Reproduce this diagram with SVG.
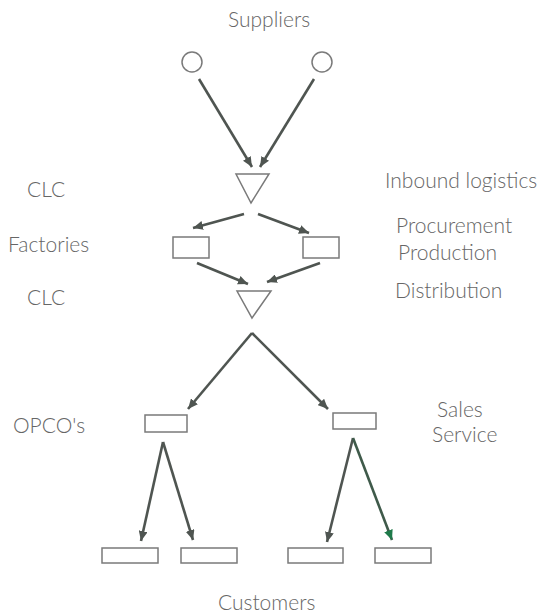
<svg xmlns="http://www.w3.org/2000/svg" width="541" height="614" viewBox="0 0 541 614">
<style>
text{font-family:Lato,"Liberation Sans",sans-serif;font-size:21px;font-weight:300;fill:#666}
.s{fill:#fff;stroke:#7a7a7a;stroke-width:1.5}
.c{stroke:#4f5551;stroke-width:2.6;fill:none;marker-end:url(#ah)}
.g{stroke:#3f5a4a;marker-end:url(#ahg)}
</style>
<defs>
<marker id="ah" markerUnits="userSpaceOnUse" markerWidth="11" markerHeight="9" refX="10" refY="4.5" orient="auto"><path d="M0,0 L10,4.5 L0,9 Z" fill="#4f5551"/></marker>
<marker id="ahg" markerUnits="userSpaceOnUse" markerWidth="11" markerHeight="9" refX="10" refY="4.5" orient="auto"><path d="M0,0 L10,4.5 L0,9 Z" fill="#1f7a4a"/></marker>
</defs>
<rect width="541" height="614" fill="#fff"/>
<g id="labels">
<text x="228" y="27">Suppliers</text>
<text x="27" y="197">CLC</text>
<text x="8" y="252">Factories</text>
<text x="27" y="305">CLC</text>
<text x="13" y="433">OPCO's</text>
<text x="385" y="188">Inbound logistics</text>
<text x="396" y="233">Procurement</text>
<text x="398" y="260">Production</text>
<text x="395" y="298">Distribution</text>
<text x="437" y="417">Sales</text>
<text x="432" y="442">Service</text>
<text x="218" y="610">Customers</text>
</g>
<g id="connectors">
<line class="c" x1="199" y1="79" x2="252" y2="167"/>
<line class="c" x1="314" y1="79" x2="260" y2="167"/>
<line class="c" x1="244" y1="214" x2="193" y2="228"/>
<line class="c" x1="258" y1="214" x2="309" y2="233"/>
<line class="c" x1="197" y1="263" x2="248" y2="284"/>
<line class="c" x1="320" y1="263" x2="267" y2="282"/>
<line class="c" x1="252" y1="333" x2="188" y2="409"/>
<line class="c" x1="252" y1="333" x2="328" y2="409"/>
<line class="c" x1="163" y1="442" x2="141" y2="541"/>
<line class="c" x1="163" y1="442" x2="193" y2="540"/>
<line class="c" x1="353" y1="438" x2="327" y2="542"/>
<line class="c g" x1="353" y1="438" x2="392" y2="540"/>
</g>
<g id="supplier1"><circle class="s" cx="192" cy="62" r="10"/></g>
<g id="supplier2"><circle class="s" cx="322" cy="62" r="10"/></g>
<g id="clc1"><polygon class="s" points="236,174 269,174 251,203"/></g>
<g id="factory1"><rect class="s" x="173" y="237" width="36" height="21"/></g>
<g id="factory2"><rect class="s" x="303" y="237" width="36" height="21"/></g>
<g id="clc2"><polygon class="s" points="237,291 271,291 252,318"/></g>
<g id="opco1"><rect class="s" x="145" y="415" width="42" height="17"/></g>
<g id="opco2"><rect class="s" x="333" y="413" width="43" height="16"/></g>
<g id="customer1"><rect class="s" x="102" y="548" width="56" height="15"/></g>
<g id="customer2"><rect class="s" x="181" y="548" width="56" height="15"/></g>
<g id="customer3"><rect class="s" x="288" y="548" width="55" height="15"/></g>
<g id="customer4"><rect class="s" x="375" y="548" width="56" height="15"/></g>
</svg>
